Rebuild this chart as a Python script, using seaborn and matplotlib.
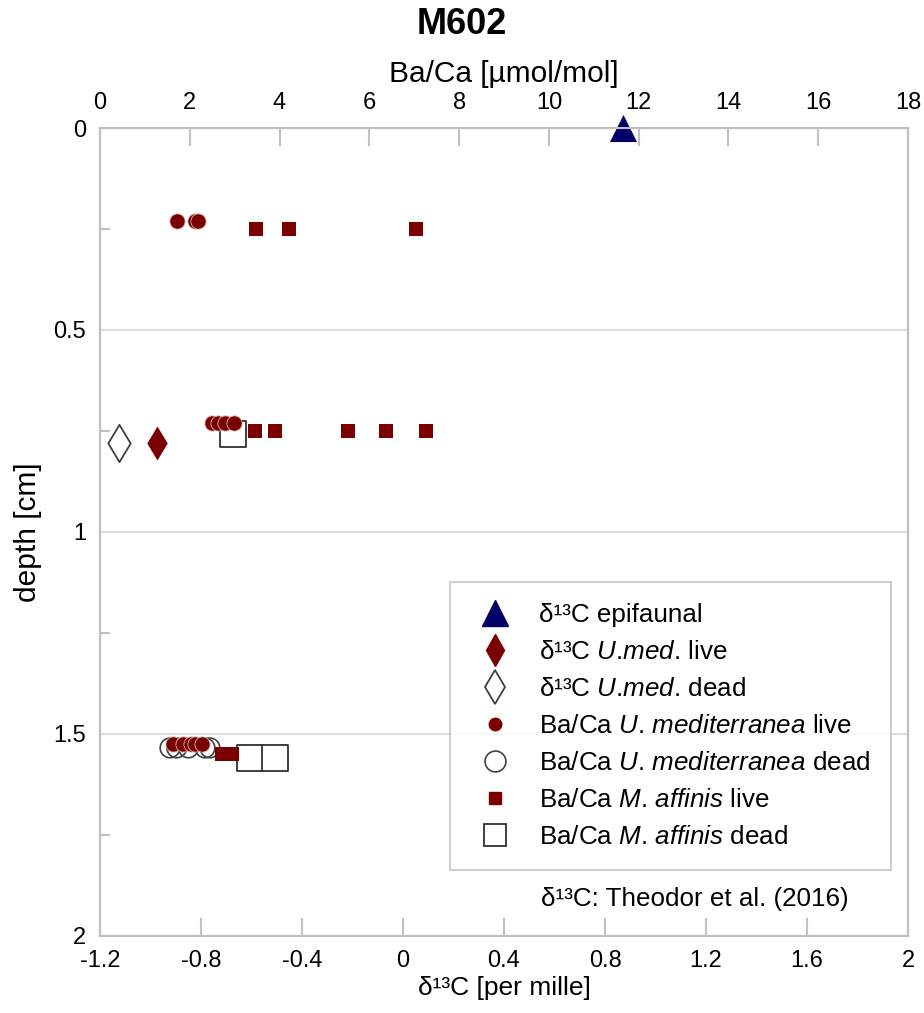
import matplotlib
matplotlib.use("Agg")
import matplotlib.pyplot as plt
import seaborn as sns
import pandas as pd
from matplotlib.lines import Line2D

# ---------------- data ----------------
# d13C (bottom axis)
epi_d13c = [0.87]
epi_depth = [0.0]
umed_live_d13c = [-0.975]
umed_live_depth = [0.78]
umed_dead_d13c = [-1.125]
umed_dead_depth = [0.78]

# Ba/Ca (top axis)
um_live_baca = [1.72, 2.12, 2.18, 2.49, 2.63, 2.78, 2.98, 1.63, 1.86, 2.03, 2.12, 2.27]
um_live_depth = [0.23, 0.23, 0.23, 0.73, 0.73, 0.73, 0.73, 1.525, 1.525, 1.525, 1.525, 1.525]
um_dead_baca = [1.56, 1.71, 1.97, 2.34, 2.45]
um_dead_depth = [1.535, 1.535, 1.535, 1.535, 1.535]
ma_live_baca = [3.47, 4.21, 7.04, 3.45, 3.90, 5.53, 6.37, 7.27, 2.71, 2.93]
ma_live_depth = [0.25, 0.25, 0.25, 0.75, 0.75, 0.75, 0.75, 0.75, 1.55, 1.55]
ma_dead_baca = [2.97, 3.34, 3.90]
ma_dead_depth = [0.757, 1.56, 1.56]

x_ticks = [-1.2, -0.8, -0.4, 0, 0.4, 0.8, 1.2, 1.6, 2]
x_ticklabels = ["-1.2", "-0.8", "-0.4", "0", "0.4", "0.8", "1.2", "1.6", "2"]
top_ticks = [0, 2, 4, 6, 8, 10, 12, 14, 16, 18]
y_ticks = [0, 0.5, 1, 1.5, 2]
y_ticklabels = ["0", "0.5", "1", "1.5", "2"]

labels = [
    "δ¹³C epifaunal",
    r"δ¹³C $\mathit{U}$.$\mathit{med}$. live",
    r"δ¹³C $\mathit{U}$.$\mathit{med}$. dead",
    r"Ba/Ca $\mathit{U}$. $\mathit{mediterranea}$ live",
    r"Ba/Ca $\mathit{U}$. $\mathit{mediterranea}$ dead",
    r"Ba/Ca $\mathit{M}$. $\mathit{affinis}$ live",
    r"Ba/Ca $\mathit{M}$. $\mathit{affinis}$ dead",
]

# ---------------- style ----------------
sns.set_style("white")
plt.rcParams["font.family"] = ["Liberation Sans", "DejaVu Sans"]
plt.rcParams["mathtext.fontset"] = "custom"
plt.rcParams["mathtext.rm"] = "Liberation Sans"
plt.rcParams["mathtext.it"] = "Liberation Sans:italic"
plt.rcParams["text.color"] = "black"
plt.rcParams["axes.labelcolor"] = "black"
plt.rcParams["xtick.color"] = "black"
plt.rcParams["ytick.color"] = "black"

RED = "#7a0000"
NAVY = "#000066"
GREY = "#c0c0c0"
FS = 17
LFS = 18.7

fig = plt.figure(figsize=(9.24, 10.13), dpi=100)
ax = fig.add_axes([0.1082, 0.0763, 0.8745, 0.7973])
ax2 = ax.twiny()

# Ba/Ca on top axis
sns.scatterplot(x=um_dead_baca, y=um_dead_depth, ax=ax2, marker="o", s=200,
                facecolor="none", edgecolor="#404040", linewidth=1.2, zorder=3)
sns.scatterplot(x=ma_dead_baca, y=ma_dead_depth, ax=ax2, marker="s", s=330,
                facecolor="white", edgecolor="#303030", linewidth=1.3, zorder=3)
sns.scatterplot(x=ma_live_baca, y=ma_live_depth, ax=ax2, marker="s", s=95,
                color=RED, edgecolor=RED, linewidth=0, zorder=4)
sns.scatterplot(x=um_live_baca, y=um_live_depth, ax=ax2, marker="o", s=120,
                color=RED, edgecolor="#d8b0b0", linewidth=0.6, zorder=5)

# d13C on bottom axis
sns.scatterplot(x=epi_d13c, y=epi_depth, ax=ax, marker="^", s=380,
                color=NAVY, edgecolor=NAVY, linewidth=0, zorder=6, clip_on=False)
sns.scatterplot(x=umed_live_d13c, y=umed_live_depth, ax=ax, marker="d", s=300,
                color=RED, edgecolor=RED, linewidth=0, zorder=6)
sns.scatterplot(x=umed_dead_d13c, y=umed_dead_depth, ax=ax, marker="d", s=360,
                facecolor="white", edgecolor="#404040", linewidth=1.3, zorder=6)

# axes limits and ticks
ax.set_xlim(-1.2, 2)
ax.set_ylim(2, 0)
ax2.set_xlim(0, 18)
ax.set_xticks(x_ticks)
ax.set_xticklabels(x_ticklabels)
ax.set_yticks(y_ticks)
ax.set_yticklabels(y_ticklabels)
ax.set_yticks([0.25, 0.75, 1.25, 1.75], minor=True)
ax2.set_xticks(top_ticks)
ax2.set_xticklabels([str(t) for t in top_ticks])

for a in (ax, ax2):
    for sp in a.spines.values():
        sp.set_color(GREY)
        sp.set_linewidth(1.5)
ax.tick_params(axis="x", direction="in", length=13, width=1.5, color=GREY,
               labelsize=FS, pad=10, bottom=True, labelcolor="black")
ax.tick_params(axis="y", which="major", direction="in", length=0, labelsize=FS, pad=10,
               left=True, labelcolor="black")
ax.tick_params(axis="y", which="minor", direction="in", length=7, width=1.5, color=GREY, left=True)
ax2.tick_params(axis="x", direction="in", length=13, width=1.5, color=GREY,
                labelsize=FS, pad=10, top=True, labelcolor="black")

ax.yaxis.grid(True, which="major", color="#dcdcdc", linewidth=1.5)
ax.xaxis.grid(False)
ax2.grid(False)
ax.set_axisbelow(True)

ax.set_xlabel("δ¹³C [per mille]", fontsize=19, labelpad=3)
ax.set_ylabel("depth [cm]", fontsize=21.5, labelpad=8)
ax2.set_xlabel("Ba/Ca [µmol/mol]", fontsize=21.5, labelpad=7)
fig.text(0.5, 0.993, "M602", ha="center", va="top", fontsize=26, fontweight="bold")

# legend
handles = [
    Line2D([], [], ls="none", marker="^", ms=19, mfc=NAVY, mec=NAVY),
    Line2D([], [], ls="none", marker="d", ms=16, mfc=RED, mec=RED),
    Line2D([], [], ls="none", marker="d", ms=17, mfc="white", mec="#404040", mew=1.3),
    Line2D([], [], ls="none", marker="o", ms=9, mfc=RED, mec=RED),
    Line2D([], [], ls="none", marker="o", ms=15, mfc="white", mec="#404040", mew=1.2),
    Line2D([], [], ls="none", marker="s", ms=9, mfc=RED, mec=RED),
    Line2D([], [], ls="none", marker="s", ms=16, mfc="white", mec="#303030", mew=1.3),
]
leg = ax2.legend(handles, labels, loc="lower right", bbox_to_anchor=(0.9785, 0.0815),
                 bbox_transform=ax.transAxes, fontsize=LFS, frameon=True, fancybox=False,
                 edgecolor="#bbbbbb", borderpad=0.8, labelspacing=0.5,
                 handletextpad=0.77, handlelength=1.85, borderaxespad=0)
leg.get_frame().set_linewidth(1.3)
leg.set_zorder(10)

ax.text(0.546, 0.045, "δ¹³C: Theodor et al. (2016)", transform=ax.transAxes,
        fontsize=LFS, ha="left", va="center")

fig.savefig("out.png", dpi=100, facecolor="white")
